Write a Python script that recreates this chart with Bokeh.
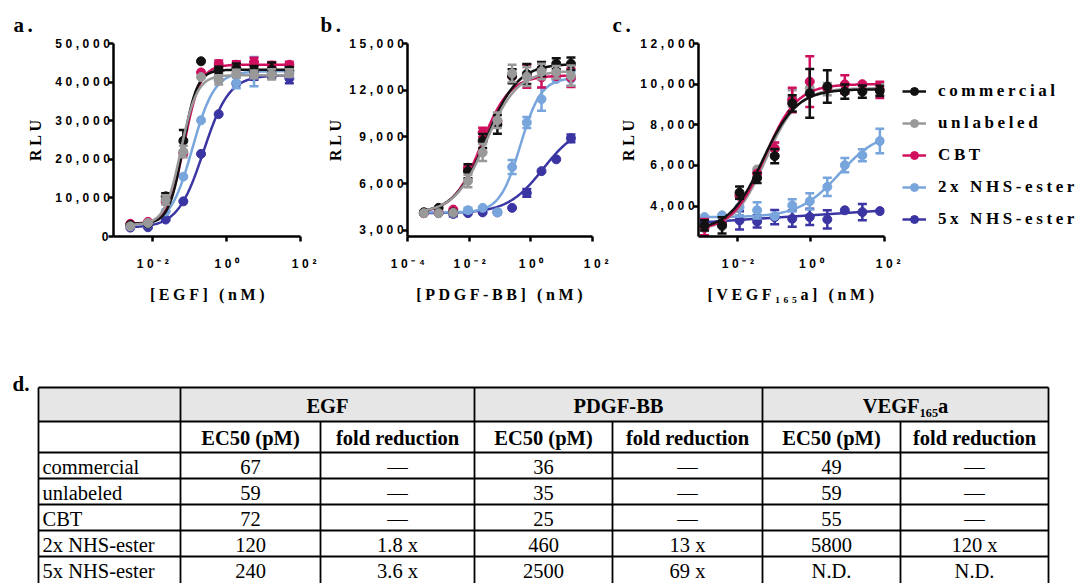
import numpy as np
from bokeh.plotting import figure
from bokeh.layouts import column, row
from bokeh.models import (FixedTicker, CustomJSTickFormatter, Legend, LegendItem, Range1d,
                          InlineStyleSheet)
from bokeh.core.properties import value
from bokeh.embed import file_html
from bokeh.resources import INLINE

series_names = ["commercial", "unlabeled", "CBT", "2x NHS-ester", "5x NHS-ester"]
series_colors = ["#111111", "#999999", "#d0105f", "#78a6dc", "#3b35a3"]

# ---------------- a. EGF ----------------
egf_conc = [0.00254, 0.00762, 0.0229, 0.0686, 0.206, 0.617, 1.85, 5.56, 16.7, 50.0]
egf_commercial = [3000, 3300, 10400, 24800, 45400, 43000, 43500, 43000, 43300, 43000]
egf_unlabeled = [2650, 3500, 9500, 22000, 41300, 40600, 42200, 42000, 42000, 42300]
egf_cbt = [3300, 3800, 9000, 21500, 42500, 44700, 44500, 45200, 44300, 44500]
egf_2x = [2700, 3200, 6500, 15500, 30100, 40500, 39800, 42700, 42500, 43900]
egf_5x = [2300, 2400, 4400, 9100, 21400, 31700, 39600, 41500, 42000, 41000]
egf_commercial_err = [0, 0, 800, 2800, 0, 1000, 1300, 1200, 1800, 900]
egf_unlabeled_err = [0, 0, 1200, 1500, 0, 1200, 1000, 1000, 1300, 1000]
egf_cbt_err = [0, 0, 0, 0, 0, 900, 900, 1100, 900, 800]
egf_2x_err = [0, 0, 0, 0, 0, 0, 1400, 3800, 1000, 800]
egf_5x_err = [0, 0, 0, 0, 0, 0, 0, 900, 1000, 1300]
egf_bottom = [3300, 3000, 3300, 2800, 2300]
egf_top = [43200, 41800, 44500, 42800, 41800]
egf_hill = [2.3, 2.0, 2.0, 1.45, 1.25]
egf_ec50_pM = [67, 59, 72, 120, 240]
egf_fold = [None, None, None, 1.8, 3.6]

# ---------------- b. PDGF-BB ----------------
pdgf_conc = [0.000339, 0.00102, 0.00305, 0.00914, 0.0274, 0.0823, 0.247, 0.741, 2.22, 6.67, 20.0]
pdgf_commercial = [4160, 4440, 4150, 6800, 8740, 9800, 12900, 13040, 13360, 13700, 13700]
pdgf_unlabeled = [4100, 4100, 4120, 6160, 8000, 10070, 13080, 12870, 13200, 13150, 12930]
pdgf_cbt = [4100, 4150, 4330, 7020, 9280, 10000, 12900, 12900, 12820, 12900, 12800]
pdgf_2x = [4100, 4150, 4200, 4290, 4440, 4160, 7060, 9920, 11430, 12720, 12720]
pdgf_5x = [4100, 4100, 4050, 4100, 4150, 4150, 4440, 5400, 6800, 7560, 8910]
pdgf_commercial_err = [0, 0, 0, 450, 450, 600, 450, 650, 450, 350, 400]
pdgf_unlabeled_err = [0, 0, 0, 400, 550, 500, 550, 600, 500, 400, 650]
pdgf_cbt_err = [0, 0, 0, 0, 300, 0, 0, 750, 650, 0, 600]
pdgf_2x_err = [0, 0, 0, 150, 0, 150, 450, 350, 750, 0, 450]
pdgf_5x_err = [0, 0, 150, 0, 0, 0, 0, 250, 0, 0, 250]
pdgf_bottom = [4100, 4100, 4100, 4150, 4100]
pdgf_top = [13700, 13250, 12950, 12800, 9800]
pdgf_hill = [0.85, 0.85, 0.95, 1.3, 0.75]
pdgf_ec50_pM = [36, 35, 25, 460, 2500]
pdgf_fold = [None, None, None, 13, 69]

# ---------------- c. VEGF165a ----------------
vegf_conc = [0.00127, 0.00381, 0.0114, 0.0343, 0.103, 0.309, 0.926, 2.78, 8.33, 25.0, 75.0]
vegf_commercial = [3045, 3045, 4660, 5380, 6455, 9055, 9550, 9880, 9630, 9630, 9665]
vegf_unlabeled = [2900, 3000, 4500, 5800, 6800, 9300, 9800, 9750, 9700, 9700, 9750]
vegf_cbt = [2960, 3100, 4500, 5600, 6830, 9220, 10125, 9800, 9990, 10000, 9720]
vegf_2x = [3457, 3540, 3950, 3790, 3505, 4030, 4230, 4940, 6010, 6500, 7200]
vegf_5x = [3200, 3200, 3290, 3240, 3450, 3375, 3460, 3340, 3790, 3700, 3750]
vegf_commercial_err = [250, 400, 300, 250, 350, 400, 1200, 800, 350, 300, 250]
vegf_unlabeled_err = [0, 0, 0, 0, 300, 400, 300, 300, 0, 0, 300]
vegf_cbt_err = [400, 0, 0, 0, 300, 600, 1250, 0, 450, 0, 400]
vegf_2x_err = [0, 0, 400, 400, 0, 300, 400, 450, 350, 300, 600]
vegf_5x_err = [0, 0, 450, 300, 350, 400, 400, 450, 0, 400, 0]
vegf_bottom = [2800, 2800, 2800, 3450, None]
vegf_top = [9750, 9800, 10000, 7700, None]
vegf_hill = [0.95, 1.0, 1.0, 0.8, None]
vegf_ec50_pM = [49, 59, 55, 5800, None]
vegf_fold = [None, None, None, 120, None]
vegf_5x_trend = [3200, 3770]   # no EC50 determined: straight trend line

# ---------------- table ----------------
table_groups = ["EGF", "PDGF-BB", "VEGF\u2081\u2086\u2085a"]
table_subheads = ["EC50 (pM)", "fold reduction"]

LS = 3.6  # letter spacing of the chart texts (px)
LS_CSS = InlineStyleSheet(css=":host { letter-spacing: %.1fpx; }" % LS)

# trailing blanks re-centre the letter-spaced texts (bokeh measures them unspaced);
# the right-most decade label is kept unpadded so that it stays inside its canvas
LOG_FMT = CustomJSTickFormatter(code="""
const e = Math.round(Math.log10(tick));
const m = {"-": "\u207b", "0": "\u2070", "1": "\u00b9", "2": "\u00b2", "3": "\u00b3", "4": "\u2074"};
const s = "10" + String(e).split("").map(c => m[c]).join("");
return e >= 2 ? s : s + " ".repeat(s.length - 1);
""")
NUM_FMT = CustomJSTickFormatter(code="""
const s = String(Math.round(tick)).replace(/\\B(?=(\\d{3})+(?!\\d))/g, ",");
return s + " ".repeat(s.length - 1);
""")


def pad(label, space_px=4.0):
    return label + " " * int(round((len(label) - 1) * LS / space_px))


def make_panel(letter, conc, vals, errs, bottoms, tops, hills, ec50s, trend, xr, yr, yticks, xticks,
               xlabel, border_left, frame_w, border_right, order, letter_off, ylab_standoff, legend=False):
    p = figure(x_axis_type="log", x_range=Range1d(*xr), y_range=Range1d(*yr),
               frame_width=frame_w, frame_height=193, min_border_left=border_left,
               min_border_right=border_right, min_border_top=43, min_border_bottom=74,
               output_backend="svg", toolbar_location=None, title=letter,
               background_fill_color="white", border_fill_color="white")
    p.stylesheets = [LS_CSS]
    p.outline_line_color = None
    p.grid.visible = False
    p.title.align = "left"
    p.title.offset = letter_off
    p.title.standoff = 14
    p.title.text_font = "Liberation Serif"
    p.title.text_font_style = "bold"
    p.title.text_font_size = "21px"
    p.title.text_color = "black"
    items = {}
    for i in order:
        c = series_colors[i]
        x = np.array(conc, dtype=float)
        y = np.array(vals[i], dtype=float)
        e = np.array(errs[i], dtype=float)
        m = e > 0
        if m.any():
            p.segment(x0=x[m], y0=(y - e)[m], x1=x[m], y1=(y + e)[m], line_color=c, line_width=2.5)
            p.scatter(x=np.r_[x[m], x[m]], y=np.r_[(y - e)[m], (y + e)[m]], marker="dash",
                      size=9, line_color=c, line_width=2.5)
        if ec50s[i] is not None:
            xf = np.logspace(np.log10(conc[0]), np.log10(conc[-1]), 200)
            yf = bottoms[i] + (tops[i] - bottoms[i]) / (
                1 + 10 ** (hills[i] * (np.log10(ec50s[i] / 1000.0) - np.log10(xf))))
        else:
            xf = [conc[0], conc[-1]]
            yf = trend
        lr = p.line(xf, yf, line_color=c, line_width=2.5)
        sr = p.scatter(x, y, size=9, fill_color=c, line_color=c)
        items[i] = [lr, sr]

    p.xaxis.ticker = FixedTicker(ticks=xticks)
    p.xaxis.formatter = LOG_FMT
    p.yaxis.ticker = FixedTicker(ticks=yticks)
    p.yaxis.formatter = NUM_FMT
    for ax in (p.xaxis[0], p.yaxis[0]):
        ax.axis_line_width = 2.5
        ax.axis_line_color = "black"
        ax.major_tick_line_width = 2.5
        ax.major_tick_line_color = "black"
        ax.major_tick_out = 5
        ax.major_tick_in = 0
        ax.minor_tick_line_color = None
        ax.major_label_text_font = "Liberation Sans"
        ax.major_label_text_font_style = "bold"
        ax.major_label_text_font_size = "12px"
        ax.major_label_text_color = "black"
        ax.axis_label_text_font = "Liberation Serif"
        ax.axis_label_text_font_style = "bold"
        ax.axis_label_text_font_size = "16px"
        ax.axis_label_text_color = "black"
    p.xaxis.major_label_standoff = 15
    p.xaxis.axis_label = pad(xlabel)
    p.xaxis.axis_label_standoff = 12
    p.yaxis.major_label_standoff = 0
    p.yaxis.axis_label = pad("RLU")
    p.yaxis.axis_label_standoff = ylab_standoff

    if legend:
        lg = Legend(items=[LegendItem(label=series_names[i], renderers=items[i]) for i in range(5)],
                    location=(18, 7), glyph_width=24, glyph_height=20, label_height=20,
                    spacing=12, padding=0, margin=0, label_standoff=12,
                    border_line_color=None, background_fill_alpha=0,
                    label_text_font="Liberation Serif", label_text_font_style="bold",
                    label_text_font_size="17px", label_text_color="black")
        p.add_layout(lg, "right")
    return p


pa = make_panel("a.", egf_conc,
                [egf_commercial, egf_unlabeled, egf_cbt, egf_2x, egf_5x],
                [egf_commercial_err, egf_unlabeled_err, egf_cbt_err, egf_2x_err, egf_5x_err],
                egf_bottom, egf_top, egf_hill, egf_ec50_pM, None,
                (10 ** -3.05, 100), (0, 50000), [0, 10000, 20000, 30000, 40000, 50000],
                [0.01, 1, 100], "[EGF] (nM)", 113, 187, 19, [4, 3, 2, 0, 1], -100, 8)

pb = make_panel("b.", pdgf_conc,
                [pdgf_commercial, pdgf_unlabeled, pdgf_cbt, pdgf_2x, pdgf_5x],
                [pdgf_commercial_err, pdgf_unlabeled_err, pdgf_cbt_err, pdgf_2x_err, pdgf_5x_err],
                pdgf_bottom, pdgf_top, pdgf_hill, pdgf_ec50_pM, None,
                (1e-4, 100), (2600, 15000), [3000, 6000, 9000, 12000, 15000],
                [1e-4, 0.01, 1, 100], "[PDGF-BB] (nM)", 88, 185, 19, [4, 3, 2, 0, 1], -87, 2)

pc = make_panel("c.", vegf_conc,
                [vegf_commercial, vegf_unlabeled, vegf_cbt, vegf_2x, vegf_5x],
                [vegf_commercial_err, vegf_unlabeled_err, vegf_cbt_err, vegf_2x_err, vegf_5x_err],
                vegf_bottom, vegf_top, vegf_hill, vegf_ec50_pM, vegf_5x_trend,
                (10 ** -3.06, 100), (2500, 12000), [4000, 6000, 8000, 10000, 12000],
                [0.01, 1, 100], "[VEGF\u2081\u2086\u2085a] (nM)", 87, 186, 200, [4, 3, 1, 2, 0], -86, 0,
                legend=True)

# ---------------- d. table figure ----------------
TW, TH = 1084, 273
t = figure(width=TW, height=TH, x_range=Range1d(0, TW), y_range=Range1d(TH, 0),
           min_border=0, output_backend="svg", toolbar_location=None,
           x_axis_location=None, y_axis_location=None)
t.grid.visible = False
t.outline_line_color = None

col_w = [142, 140, 154, 138, 150, 138, 148]
col_edges = list(np.cumsum([38] + col_w))
row_h = [34, 31, 26, 26, 26, 26, 26]
row_edges = list(np.cumsum([77] + row_h))

t.quad(left=[col_edges[0]], right=[col_edges[-1]], top=[row_edges[0]], bottom=[row_edges[1]],
       fill_color="#e6e6e6", line_color=None)
h_lines = row_edges[:-1]
t.segment(x0=[col_edges[0]] * len(h_lines), x1=[col_edges[-1]] * len(h_lines),
          y0=h_lines, y1=h_lines, line_color="black", line_width=1.8)
full_cols = [col_edges[i] for i in (0, 1, 3, 5, 7)]
t.segment(x0=full_cols, x1=full_cols, y0=[row_edges[0]] * 5, y1=[TH + 10] * 5,
          line_color="black", line_width=1.8)
sub_cols = [col_edges[i] for i in (2, 4, 6)]
t.segment(x0=sub_cols, x1=sub_cols, y0=[row_edges[1]] * 3, y1=[TH + 10] * 3,
          line_color="black", line_width=1.8)


def ctr(a, b):
    return (a + b) / 2.0


FS = "20.5px"
t.text(x=[ctr(col_edges[1], col_edges[3]), ctr(col_edges[3], col_edges[5]), ctr(col_edges[5], col_edges[7])],
       y=[ctr(row_edges[0], row_edges[1]) + 1] * 3, text=table_groups,
       text_font=value("Liberation Serif"), text_font_style=value("bold"), text_font_size=value(FS),
       text_align="center", text_baseline="middle", text_color="black")
t.text(x=[ctr(col_edges[k], col_edges[k + 1]) for k in range(1, 7)],
       y=[ctr(row_edges[1], row_edges[2]) + 1] * 6, text=table_subheads * 3,
       text_font=value("Liberation Serif"), text_font_style=value("bold"), text_font_size=value(FS),
       text_align="center", text_baseline="middle", text_color="black")


def fold_txt(v):
    return "\u2014" if v is None else "%g x" % v


cells_x, cells_y, cells_t = [], [], []
for r in range(5):
    yc = ctr(row_edges[2 + r], row_edges[3 + r]) + 1
    vals = [str(egf_ec50_pM[r]), fold_txt(egf_fold[r]),
            str(pdgf_ec50_pM[r]), fold_txt(pdgf_fold[r]),
            "N.D." if vegf_ec50_pM[r] is None else str(vegf_ec50_pM[r]),
            "N.D." if vegf_ec50_pM[r] is None else fold_txt(vegf_fold[r])]
    for k, s in enumerate(vals):
        cells_x.append(ctr(col_edges[k + 1], col_edges[k + 2]))
        cells_y.append(yc)
        cells_t.append(s)
t.text(x=cells_x, y=cells_y, text=cells_t,
       text_font=value("Liberation Serif"), text_font_size=value(FS),
       text_align="center", text_baseline="middle", text_color="black")
t.text(x=[col_edges[0] + 4] * 5, y=[ctr(row_edges[2 + r], row_edges[3 + r]) + 1 for r in range(5)],
       text=series_names, text_font=value("Liberation Serif"), text_font_size=value(FS),
       text_align="left", text_baseline="middle", text_color="black")
t.text(x=[12], y=[73], text=["d."], text_font=value("Liberation Serif"), text_font_style=value("bold"),
       text_font_size=value("21px"), text_align="left", text_baseline="alphabetic", text_color="black")

layout = column(row(pa, pb, pc), t)
open("out.html", "w").write(file_html(layout, INLINE))
